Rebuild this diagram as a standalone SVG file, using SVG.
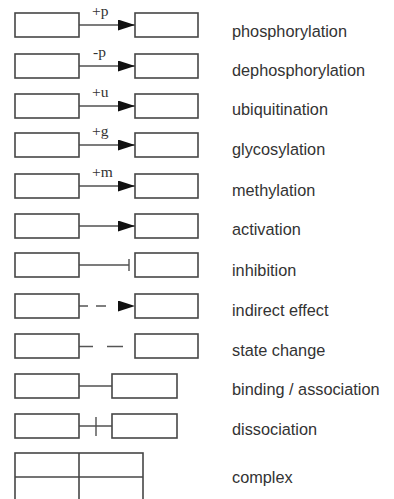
<svg xmlns="http://www.w3.org/2000/svg" width="394" height="499" viewBox="0 0 394 499">
  <style>
    .box { fill: #fff; stroke: #464646; stroke-width: 1.6; }
    .ln { fill: none; stroke: #505050; stroke-width: 1.4; }
    .dash { fill: none; stroke: #555; stroke-width: 1.5; }
    .lbl { font-family: "Liberation Sans", Arial, sans-serif; font-size: 16.3px; fill: #333; }
    .mod { font-family: "Liberation Serif", "Times New Roman", serif; font-size: 15.5px; fill: #333; }
  </style>
  <defs>
    <marker id="arrow" viewBox="0 0 17 11" refX="17" refY="5.5" markerWidth="17" markerHeight="11" markerUnits="userSpaceOnUse" orient="auto">
      <path d="M0,0 L17,5.5 L0,11 Z" fill="#111"/>
    </marker>
  </defs>
  <rect width="394" height="499" fill="#fff"/>

  <!-- connectors -->
  <g id="connectors">
    <line class="ln" x1="79" y1="25" x2="135" y2="25" marker-end="url(#arrow)"/>
    <line class="ln" x1="79" y1="66" x2="135" y2="66" marker-end="url(#arrow)"/>
    <line class="ln" x1="79" y1="106" x2="135" y2="106" marker-end="url(#arrow)"/>
    <line class="ln" x1="79" y1="145" x2="135" y2="145" marker-end="url(#arrow)"/>
    <line class="ln" x1="79" y1="186" x2="135" y2="186" marker-end="url(#arrow)"/>
    <line class="ln" x1="79" y1="226" x2="135" y2="226" marker-end="url(#arrow)"/>
    <!-- inhibition -->
    <line class="ln" x1="79" y1="265" x2="129" y2="265"/>
    <line class="ln" x1="129" y1="259" x2="129" y2="271"/>
    <!-- indirect effect -->
    <line class="dash" x1="79" y1="306" x2="88" y2="306"/>
    <line class="dash" x1="96" y1="306" x2="106" y2="306"/>
    <line class="dash" x1="116" y1="306" x2="135" y2="306" stroke-opacity="0" marker-end="url(#arrow)"/>
    <!-- state change -->
    <line class="dash" x1="79" y1="346.5" x2="93" y2="346.5"/>
    <line class="dash" x1="107" y1="346.5" x2="123" y2="346.5"/>
    <!-- binding -->
    <line class="ln" x1="79" y1="386" x2="112" y2="386"/>
    <!-- dissociation -->
    <line class="ln" x1="79" y1="426" x2="112" y2="426"/>
    <line class="ln" x1="96" y1="417" x2="96" y2="436"/>
  </g>

  <!-- modification labels -->
  <g id="mods">
    <text class="mod" x="92" y="15.5">+p</text>
    <text class="mod" x="93" y="56.5">-p</text>
    <text class="mod" x="92" y="96.5">+u</text>
    <text class="mod" x="92" y="135.5">+g</text>
    <text class="mod" x="92" y="176.5">+m</text>
  </g>

  <g id="phosphorylation">
    <rect class="box" x="15" y="13" width="64" height="24"/>
    <rect class="box" x="135" y="13" width="63" height="24"/>
    <text class="lbl" x="232" y="37">phosphorylation</text>
  </g>
  <g id="dephosphorylation">
    <rect class="box" x="15" y="54" width="64" height="24"/>
    <rect class="box" x="135" y="54" width="63" height="24"/>
    <text class="lbl" x="232" y="76">dephosphorylation</text>
  </g>
  <g id="ubiquitination">
    <rect class="box" x="15" y="94" width="64" height="24"/>
    <rect class="box" x="135" y="94" width="63" height="24"/>
    <text class="lbl" x="232" y="115">ubiquitination</text>
  </g>
  <g id="glycosylation">
    <rect class="box" x="15" y="133" width="64" height="24"/>
    <rect class="box" x="135" y="133" width="63" height="24"/>
    <text class="lbl" x="232" y="155">glycosylation</text>
  </g>
  <g id="methylation">
    <rect class="box" x="15" y="174" width="64" height="24"/>
    <rect class="box" x="135" y="174" width="63" height="24"/>
    <text class="lbl" x="232" y="196">methylation</text>
  </g>
  <g id="activation">
    <rect class="box" x="15" y="214" width="64" height="24"/>
    <rect class="box" x="135" y="214" width="63" height="24"/>
    <text class="lbl" x="232" y="235">activation</text>
  </g>
  <g id="inhibition">
    <rect class="box" x="15" y="253" width="64" height="24"/>
    <rect class="box" x="135" y="253" width="63" height="24"/>
    <text class="lbl" x="232" y="276">inhibition</text>
  </g>
  <g id="indirect-effect">
    <rect class="box" x="15" y="294" width="64" height="24"/>
    <rect class="box" x="135" y="294" width="63" height="24"/>
    <text class="lbl" x="232" y="316">indirect effect</text>
  </g>
  <g id="state-change">
    <rect class="box" x="15" y="334" width="64" height="24"/>
    <rect class="box" x="135" y="334" width="63" height="24"/>
    <text class="lbl" x="232" y="356">state change</text>
  </g>
  <g id="binding">
    <rect class="box" x="15" y="374" width="64" height="24"/>
    <rect class="box" x="112" y="374" width="65" height="24"/>
    <text class="lbl" x="232" y="395">binding / association</text>
  </g>
  <g id="dissociation">
    <rect class="box" x="15" y="414" width="64" height="24"/>
    <rect class="box" x="112" y="414" width="65" height="24"/>
    <text class="lbl" x="232" y="435">dissociation</text>
  </g>
  <g id="complex">
    <rect class="box" x="15" y="453" width="128" height="50"/>
    <line class="box" x1="79" y1="453" x2="79" y2="503"/>
    <line class="box" x1="15" y1="477" x2="143" y2="477"/>
    <text class="lbl" x="232" y="483">complex</text>
  </g>
</svg>
